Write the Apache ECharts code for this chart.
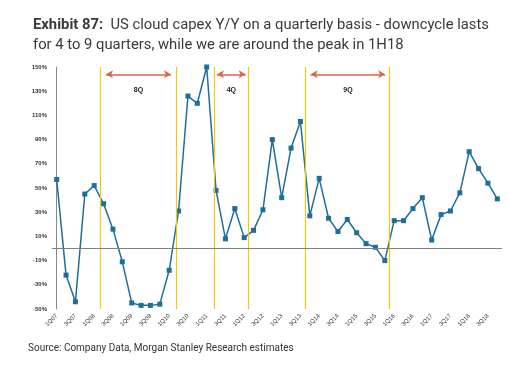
<!DOCTYPE html>
<html>
<head>
<meta charset="utf-8">
<script src="https://cdn.jsdelivr.net/npm/echarts@6/dist/echarts.min.js"></script>
<style>
html,body{margin:0;padding:0;background:#fff;}
#c{width:522px;height:372px;}
</style>
</head>
<body>
<div id="c"></div>
<script>
// Quarter categories 1Q07 .. 4Q18
const quarters = ['1Q07','2Q07','3Q07','4Q07','1Q08','2Q08','3Q08','4Q08','1Q09','2Q09','3Q09','4Q09',
  '1Q10','2Q10','3Q10','4Q10','1Q11','2Q11','3Q11','4Q11','1Q12','2Q12','3Q12','4Q12',
  '1Q13','2Q13','3Q13','4Q13','1Q14','2Q14','3Q14','4Q14','1Q15','2Q15','3Q15','4Q15',
  '1Q16','2Q16','3Q16','4Q16','1Q17','2Q17','3Q17','4Q17','1Q18','2Q18','3Q18','4Q18'];
// US cloud capex Y/Y (%)
const capexYoY = [57,-22,-44,45,52,37,16,-11,-45,-47,-47,-46,
  -18,31,126,120,150,48,8,33,9,15,32,90,
  42,83,105,27,58,25,14,24,13,4,1,-10,
  23,23,33,42,7,28,31,46,80,66,54,41];
// Yellow cycle boundary lines (position in quarter index units)
const cycleLines = [4.62, 12.8, 16.81, 20.44, 26.53, 35.47];
// Downcycle arrows: start, end (quarter index units), label
const arrowStart = [5.26, 17.1, 27.09];
const arrowEnd = [12.19, 20.16, 35.04];
const arrowLabels = ['8Q', '4Q', '9Q'];
const arrowLevel = 144; // % level for arrows

const yTicks = {min: -50, max: 150, interval: 20};

const chart = echarts.init(document.getElementById('c'));
const arrowData = arrowStart.map((s, i) => [
  {coord: [s, arrowLevel], label: {formatter: arrowLabels[i]}},
  {coord: [arrowEnd[i], arrowLevel]}
]);
const option = {
  backgroundColor: '#fff',
  animation: false,
  title: {
    left: 28, top: 10,
    text: '{b|Exhibit 87:}  US cloud capex Y/Y on a quarterly basis - downcycle lasts\nfor 4 to 9 quarters, while we are around the peak in 1H18',
    textStyle: {
      fontFamily: 'Roboto', fontSize: 14.8, fontWeight: 'normal', color: '#3a3a3a', lineHeight: 20,
      rich: {b: {fontFamily: 'Roboto', fontSize: 14.8, fontWeight: 'bold', color: '#3a3a3a', lineHeight: 20}}
    }
  },
  graphic: [{
    type: 'text', left: 28, top: 343,
    style: {text: 'Source: Company Data, Morgan Stanley Research estimates', font: '10px Roboto', fill: '#333'}
  }],
  grid: {left: 52, right: 20, top: 67, bottom: 63, containLabel: false},
  xAxis: [{
    type: 'category', data: quarters, boundaryGap: true,
    axisLine: {show: false}, axisTick: {show: false},
    axisLabel: {interval: 1, rotate: 45, fontSize: 6, color: '#333', margin: 6, fontFamily: 'Liberation Sans'}
  }, {
    type: 'value', min: -0.5, max: 47.5, show: false
  }],
  yAxis: {
    type: 'value', min: yTicks.min, max: yTicks.max, interval: yTicks.interval,
    axisLine: {show: true, lineStyle: {color: '#888', width: 1}},
    axisTick: {show: false}, splitLine: {show: false},
    axisLabel: {formatter: '{value}%', fontSize: 6, color: '#333', margin: 5, fontFamily: 'Liberation Sans', fontWeight: 'bold'}
  },
  series: [{
    type: 'line', xAxisIndex: 1, data: [], z: 1,
    markLine: {
      silent: true, symbol: 'none', animation: false,
      lineStyle: {color: '#F2C811', width: 1.2, type: 'solid'},
      label: {show: false},
      data: cycleLines.map(v => ({xAxis: v}))
    }
  }, {
    type: 'line', xAxisIndex: 1, data: [], z: 1,
    markLine: {
      silent: true, symbol: ['arrow', 'arrow'], symbolSize: [6, 7], animation: false,
      lineStyle: {color: '#D46A4C', width: 1.5, type: 'solid'},
      label: {show: true, position: 'insideMiddleBottom', distance: 12, fontSize: 7, fontWeight: 'bold', color: '#222', fontFamily: 'Liberation Sans'},
      data: arrowData
    }
  }, {
    type: 'line', data: capexYoY, z: 3,
    symbol: 'rect', symbolSize: 5,
    lineStyle: {color: '#1F6E9A', width: 1.5},
    itemStyle: {color: '#1F6E9A'},
    markLine: {
      silent: true, symbol: 'none', animation: false,
      lineStyle: {color: '#808080', width: 1, type: 'solid'},
      label: {show: false},
      data: [{yAxis: 0}]
    }
  }]
};
chart.setOption(option);
</script>
</body>
</html>
